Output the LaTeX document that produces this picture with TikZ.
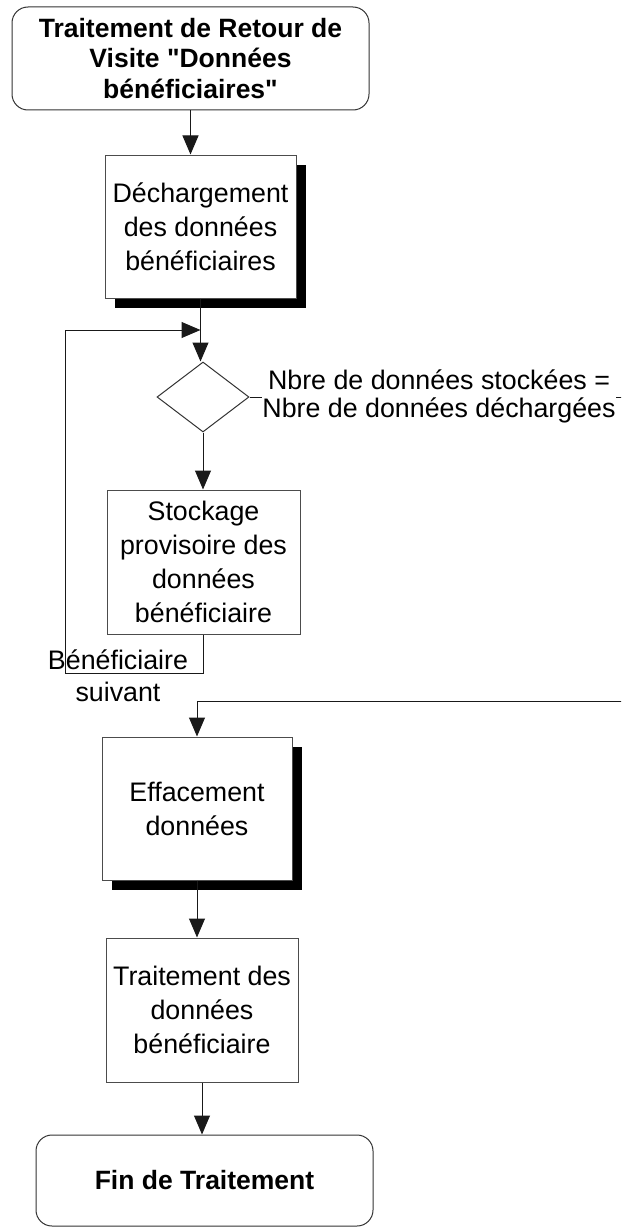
\documentclass[tikz,border=0pt]{standalone}
\usepackage{fontspec}
\setmainfont{Liberation Sans}[Ligatures=TeXOff]
\usetikzlibrary{arrows.meta,shapes.geometric,shadows}
\begin{document}
\begin{tikzpicture}[x=1pt,y=-1pt,
  conn/.style={line width=1pt, draw=black!90},
  arr/.style={conn, -{Triangle[width=16pt,length=19pt]}},
  proc/.style={rectangle, draw=black!70, line width=1pt, fill=white, inner sep=0pt, align=center,
    font=\fontsize{26.8}{34}\selectfont},
  boxshadow/.style={drop shadow={shadow xshift=10pt, shadow yshift=-10pt, fill=black, opacity=1}},
  term/.style={rectangle, draw=black!80, line width=1pt, rounded corners=16pt, fill=white, inner sep=0pt,
    align=center, font=\bfseries\fontsize{26.5}{30.5}\selectfont},
  decision/.style={diamond, draw=black!80, line width=1pt, fill=white, inner sep=0pt,
    minimum width=92pt, minimum height=70pt},
  lbl/.style={align=center, inner sep=0pt, font=\fontsize{26.8}{28}\selectfont}
]
\useasboundingbox (0,0) rectangle (621,1228);
\begin{scope}
\clip (0,0) rectangle (621,1228);

\node[term, minimum width=357pt, minimum height=103pt] (start) at (190.5,58.5)
  {Traitement de Retour de\\Visite "Données\\bénéficiaires"};
\node[proc, boxshadow, minimum width=191pt, minimum height=143pt] (dech) at (200.5,226.5)
  {Déchargement\\des données\\bénéficiaires};
\coordinate (j1) at (200.5,330);
\node[decision] (dia) at (203,397) {};
\node[proc, minimum width=193pt, minimum height=144pt] (stock) at (203.5,562)
  {Stockage\\provisoire des\\données\\bénéficiaire};
\coordinate (lp) at (65,673);
\node[proc, boxshadow, minimum width=190pt, minimum height=143pt] (eff) at (197,808.5)
  {Effacement\\données};
\node[proc, minimum width=192pt, minimum height=144pt] (trait) at (202,1010)
  {Traitement des\\données\\bénéficiaire};
\node[term, minimum width=337pt, minimum height=91pt] (end) at (204.5,1180.5)
  {Fin de Traitement};
\coordinate (r1) at (630,395);
\coordinate (r2) at (630,701);

% connectors
\draw[arr] (start.south) -- (start.south |- dech.north);
\draw[conn] (dech.south) -- (j1);
\draw[arr] (j1) -- (j1 |- dia.north);
\draw[arr] (dia.south) -- (dia.south |- stock.north);
\draw[arr] (stock.south) |- (lp) |- (j1);
\draw[arr] (dia.east) -- (dia.east -| r1) -- (r2) -| (eff.north);
\draw[arr] (eff.south) -- (eff.south |- trait.north);
\draw[arr] (trait.south) -- (trait.south |- end.north);

% labels
\node[lbl, font=\fontsize{26.8}{32}\selectfont] (suiv) at (118,676) {Bénéficiaire\\suivant};
\node[lbl, fill=white] (cond) at (439,396) {Nbre de données stockées =\\Nbre de données déchargées};
\end{scope}
\end{tikzpicture}
\end{document}
